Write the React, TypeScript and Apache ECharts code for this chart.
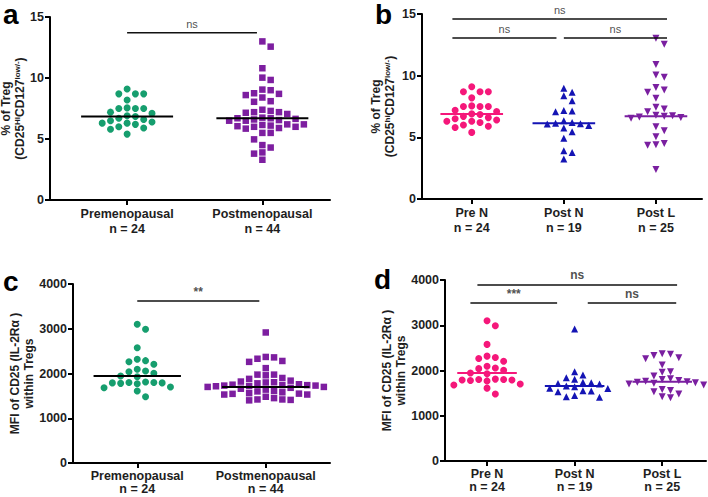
import React, { useEffect, useRef } from 'react';
import * as echarts from 'echarts';

// ---------- data ----------
const catsAC = ['Premenopausal', 'Postmenopausal'];
const nAC = [24, 44];
const catsBD = ['Pre N', 'Post N', 'Post L'];
const nBD = [24, 19, 25];

const tregPreN = [9.1, 8.7, 8.7, 8.7, 8.2, 7.55, 7.5, 7.5, 7.5, 7.2, 7.1, 6.9, 6.85, 6.7, 6.6, 6.5, 6.4, 6.3, 6.3, 6.2, 6.0, 5.9, 5.8, 5.4];
const tregPostMeno = [13.0, 12.57, 10.8, 10.03, 9.84, 9.05, 9.0, 8.75, 8.7, 8.6, 8.4, 8.1, 8.05, 7.4, 7.3, 7.2, 7.2, 7.15, 7.05, 6.75, 6.7, 6.7, 6.65, 6.6, 6.55, 6.5, 6.5, 6.2, 6.2, 6.15, 6.1, 6.05, 6.0, 6.0, 5.9, 5.85, 5.5, 5.5, 4.97, 4.5, 4.3, 3.9, 3.8, 3.3];
const tregPostN = [8.98, 8.65, 8.38, 7.97, 7.17, 7.14, 7.08, 6.35, 6.2, 6.15, 6.1, 6.08, 5.95, 5.75, 5.45, 4.92, 3.92, 3.78, 3.24];
const tregPostL = [13.03, 12.54, 10.9, 10.06, 9.87, 9.05, 8.84, 8.65, 8.16, 7.43, 7.3, 7.08, 6.8, 6.75, 6.7, 6.65, 6.6, 6.55, 5.86, 5.54, 5.05, 4.5, 4.4, 4.35, 2.4];

const mfiPreN = [3099, 2990, 2577, 2317, 2287, 2264, 2205, 2093, 2056, 2041, 2004, 1944, 1929, 1810, 1800, 1800, 1790, 1790, 1780, 1770, 1700, 1680, 1610, 1480];
const mfiPostN = [2917, 1975, 1900, 1840, 1805, 1740, 1730, 1715, 1700, 1660, 1640, 1610, 1600, 1550, 1545, 1530, 1450, 1420, 1410];
const mfiPostL = [2370, 2360, 2330, 2280, 2260, 2120, 1975, 1960, 1880, 1820, 1800, 1780, 1760, 1750, 1740, 1730, 1720, 1700, 1680, 1580, 1560, 1530, 1480, 1420, 1400];

const medTregAC = [6.85, 6.7];
const medTregBD = [6.9, 6.15, 6.7];
const medMfiAC = [1944, 1700];
const medMfiBD = [1945, 1660, 1750];

const yTicksTreg = { max: 15, interval: 5 };
const yTicksMfi = { max: 4000, interval: 1000 };

// significance brackets: [from, to, level, label]
const sigA: [number, number, number, string][] = [[1.0, 1.96, 13.7, 'ns']];
const sigB: [number, number, number, string][] = [
  [0.79, 3.12, 14.6, 'ns'],
  [0.79, 1.92, 13.05, 'ns'],
  [2.0, 3.12, 13.05, 'ns'],
];
const sigC: [number, number, number, string][] = [[1.0, 1.95, 3620, '**']];
const sigD: [number, number, number, string][] = [
  [0.89, 3.17, 3890, 'ns'],
  [0.81, 1.8, 3490, '***'],
  [2.15, 3.16, 3490, 'ns'],
];

// ---------- styles ----------
const FONT = '"Liberation Sans", Arial, Helvetica, sans-serif';
const GREEN = '#169E6E';
const PURPLE = '#7D1EA0';
const PINK = '#F5177A';
const BLUE = '#1414B4';
const PURPLE2 = '#7A1FA0';
const TXT = '#1e1e1e';

type Group = { vals: number[]; color: string; symbol: string; size: number; rotate?: number };
type Panel = {
  letter: string; lx: number; ly: number;
  left: number; top: number; width: number; height: number;
  xMin: number; xMax: number; yMax: number; yInt: number;
  cats: string[]; ns: number[]; groups: Group[];
  medians: number[]; medColors: string[];
  sig: [number, number, number, string][];
  yName: string; nameGap: number; sigBold: boolean;
  labMargin: number; labLH: number;
};

const nameTreg = (hi: string) => `{t|% of Treg}\n{t|(CD25}{s|${hi}}{t|CD127}{s|low/-}{t|)}`;
const nameMfi = `{t|MFI of CD25 (IL-2Rα )}\n{t|within Tregs}`;

const panels: Panel[] = [
  {
    letter: 'a', lx: 3, ly: 0, left: 50, top: 17, width: 280, height: 183,
    xMin: 0.43, xMax: 2.5, yMax: yTicksTreg.max, yInt: yTicksTreg.interval,
    cats: catsAC, ns: nAC,
    groups: [
      { vals: tregPreN, color: GREEN, symbol: 'circle', size: 7 },
      { vals: tregPostMeno, color: PURPLE, symbol: 'rect', size: 6.5 },
    ],
    medians: medTregAC, medColors: ['#000', '#000'], sig: sigA,
    yName: nameTreg('HI'), nameGap: 11, sigBold: false, labMargin: 6, labLH: 15,
  },
  {
    letter: 'b', lx: 375, ly: 0, left: 422, top: 14, width: 280, height: 185,
    xMin: 0.46, xMax: 3.5, yMax: yTicksTreg.max, yInt: yTicksTreg.interval,
    cats: catsBD, ns: nBD,
    groups: [
      { vals: tregPreN, color: PINK, symbol: 'circle', size: 7 },
      { vals: tregPostN, color: BLUE, symbol: 'triangle', size: 7 },
      { vals: tregPostL, color: PURPLE2, symbol: 'triangle', size: 7, rotate: 180 },
    ],
    medians: medTregBD, medColors: [PINK, BLUE, PURPLE2], sig: sigB,
    yName: nameTreg('hi'), nameGap: 25, sigBold: false, labMargin: 6, labLH: 15,
  },
  {
    letter: 'c', lx: 3, ly: 267, left: 73, top: 284, width: 257, height: 179,
    xMin: 0.5, xMax: 2.5, yMax: yTicksMfi.max, yInt: yTicksMfi.interval,
    cats: catsAC, ns: nAC,
    groups: [
      { vals: mfiPreN, color: GREEN, symbol: 'circle', size: 7 },
      { vals: mfiPostN.concat(mfiPostL), color: PURPLE, symbol: 'rect', size: 6.5 },
    ],
    medians: medMfiAC, medColors: ['#000', '#000'], sig: sigC,
    yName: nameMfi, nameGap: 29, sigBold: true, labMargin: 6, labLH: 13,
  },
  {
    letter: 'd', lx: 374, ly: 265, left: 445, top: 280, width: 261, height: 181,
    xMin: 0.52, xMax: 3.5, yMax: yTicksMfi.max, yInt: yTicksMfi.interval,
    cats: catsBD, ns: nBD,
    groups: [
      { vals: mfiPreN, color: PINK, symbol: 'circle', size: 7 },
      { vals: mfiPostN, color: BLUE, symbol: 'triangle', size: 7 },
      { vals: mfiPostL, color: PURPLE2, symbol: 'triangle', size: 7, rotate: 180 },
    ],
    medians: medMfiBD, medColors: [PINK, BLUE, PURPLE2], sig: sigD,
    yName: nameMfi, nameGap: 34, sigBold: true, labMargin: 6, labLH: 13,
  },
];

// simple beeswarm: horizontal pixel offsets so symbols don't overlap
function swarm(vals: number[], pxPerUnit: number, step: number, dia: number): number[] {
  const idx = vals.map((_, i) => i).sort((a, b) => vals[b] - vals[a]);
  const placed: { x: number; y: number }[] = [];
  const off = new Array(vals.length).fill(0);
  for (const i of idx) {
    const y = vals[i] * pxPerUnit;
    for (let k = 0; k < 60; k++) {
      const c = k === 0 ? 0 : k % 2 === 1 ? Math.ceil(k / 2) : -Math.ceil(k / 2);
      const x = c * step;
      if (placed.every((p) => Math.abs(p.y - y) >= dia || Math.abs(p.x - x) >= dia)) {
        off[i] = x;
        placed.push({ x, y });
        break;
      }
    }
  }
  return off;
}

const MED_HALF = 0.34;

export default function App() {
  const ref = useRef<HTMLDivElement>(null);
  useEffect(() => {
    const chart = echarts.init(ref.current!, null, { renderer: 'svg' });
    const grid: any[] = [];
    const xAxis: any[] = [];
    const yAxis: any[] = [];
    const series: any[] = [];
    const graphic: any[] = [];

    panels.forEach((p, pi) => {
      grid.push({ left: p.left, top: p.top, width: p.width, height: p.height, containLabel: false, outerBoundsMode: 'none' });
      const ticks = p.cats.map((_, i) => i + 1);
      xAxis.push({
        type: 'value', gridIndex: pi, min: p.xMin, max: p.xMax,
        splitLine: { show: false },
        axisLine: { show: true, onZero: false, lineStyle: { color: '#000', width: 2 } },
        axisTick: { show: true, customValues: ticks, length: 5, lineStyle: { color: '#000', width: 2 } },
        axisLabel: {
          show: true, customValues: ticks, margin: p.labMargin,
          formatter: (v: number) => {
            const i = Math.round(v) - 1;
            return `${p.cats[i]}\nn = ${p.ns[i]}`;
          },
          fontSize: 12.5, fontWeight: 'bold', fontFamily: FONT, color: TXT, lineHeight: p.labLH,
        },
      });
      yAxis.push({
        type: 'value', gridIndex: pi, min: 0, max: p.yMax, interval: p.yInt,
        splitLine: { show: false },
        axisLine: { show: true, lineStyle: { color: '#000', width: 2 } },
        axisTick: { show: true, length: 5, lineStyle: { color: '#000', width: 2 } },
        axisLabel: {
          margin: 6, fontSize: 12.5, fontWeight: 'bold', fontFamily: FONT, color: TXT,
          formatter: (v: number) => String(v),
        },
        name: p.yName, nameLocation: 'middle', nameRotate: 90, nameGap: p.nameGap,
        nameTextStyle: {
          fontFamily: FONT,
          rich: {
            t: { fontSize: 12, fontWeight: 'bold', fontFamily: FONT, color: TXT, lineHeight: 14 },
            s: { fontSize: 8, fontWeight: 'bold', fontFamily: FONT, color: TXT, lineHeight: 10, verticalAlign: 'top' },
          },
        },
      });

      const pxPerUnitY = p.height / p.yMax;
      const unitsPerPxX = (p.xMax - p.xMin) / p.width;

      p.groups.forEach((g, gi) => {
        const off = swarm(g.vals, pxPerUnitY, 8.3, 7);
        series.push({
          type: 'scatter', xAxisIndex: pi, yAxisIndex: pi,
          data: g.vals.map((v, i) => [gi + 1 + off[i] * unitsPerPxX, v]),
          symbol: g.symbol, symbolSize: g.size, symbolRotate: g.rotate || 0,
          itemStyle: { color: g.color, opacity: 1 },
          z: 2, silent: true,
        });
      });

      p.medians.forEach((m, gi) => {
        series.push({
          type: 'line', xAxisIndex: pi, yAxisIndex: pi,
          data: [[gi + 1 - MED_HALF, m], [gi + 1 + MED_HALF, m]],
          symbol: 'none', lineStyle: { color: p.medColors[gi], width: 2 },
          z: 4, silent: true,
        });
      });

      p.sig.forEach(([x1, x2, y, lab]) => {
        series.push({
          type: 'line', xAxisIndex: pi, yAxisIndex: pi,
          data: [[x1, y], [x2, y]], clip: false,
          symbol: 'none', lineStyle: { color: '#111', width: 1.5 },
          z: 4, silent: true,
        });
        series.push({
          type: 'scatter', xAxisIndex: pi, yAxisIndex: pi, clip: false,
          data: [[(x1 + x2) / 2, y]], symbolSize: 1,
          itemStyle: { color: 'rgba(0,0,0,0)' },
          label: {
            show: true, position: 'top', distance: 3, formatter: lab,
            fontSize: p.sigBold ? 12 : 11, fontWeight: p.sigBold ? 'bold' : 'normal',
            fontFamily: FONT, color: '#222',
          },
          z: 5, silent: true,
        });
      });

      graphic.push({
        type: 'text', x: p.lx, y: p.ly,
        style: {
          text: p.letter, font: `bold 28px ${FONT}`, fill: '#000',
          textAlign: 'left', textVerticalAlign: 'top', align: 'left', verticalAlign: 'top',
        },
      });
    });

    chart.setOption({
      animation: false,
      backgroundColor: '#fff',
      grid, xAxis, yAxis, series, graphic,
    });
    return () => chart.dispose();
  }, []);

  return <div ref={ref} style={{ position: 'absolute', left: 0, top: 0, width: 708, height: 497 }} />;
}
